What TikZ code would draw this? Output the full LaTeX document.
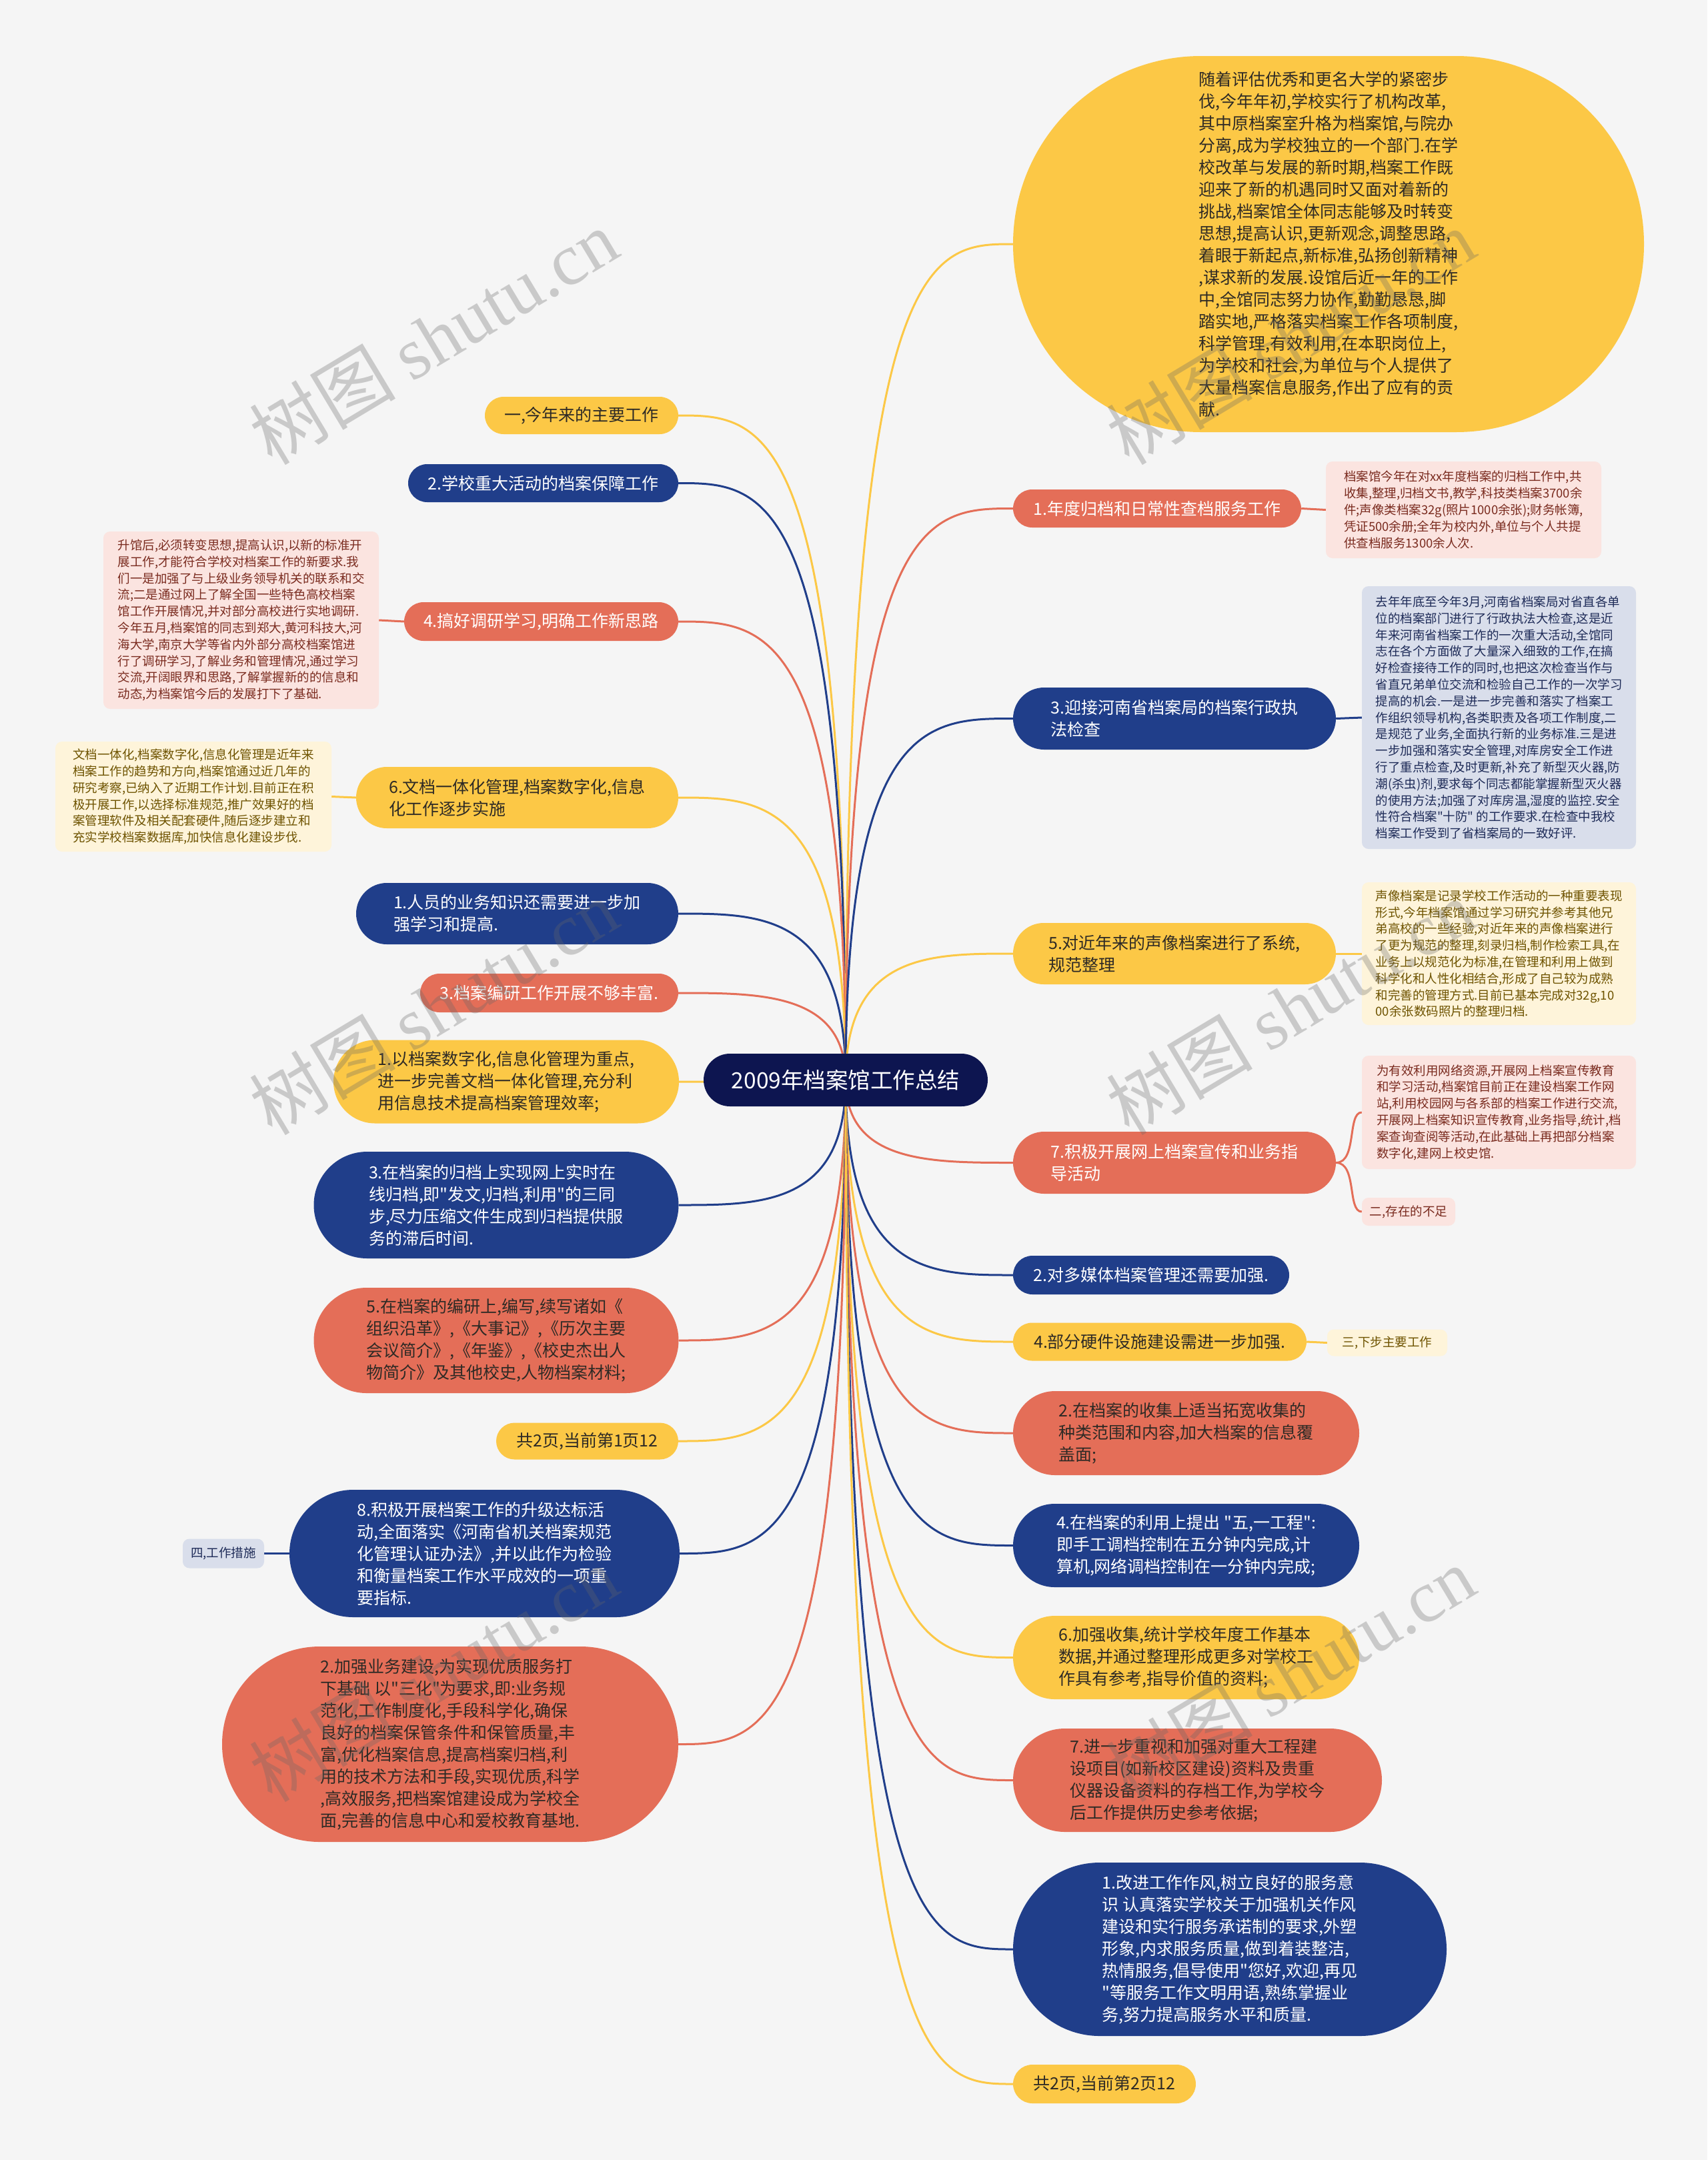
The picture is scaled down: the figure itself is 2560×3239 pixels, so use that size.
\documentclass[tikz,border=0pt]{standalone}
\usepackage{fontspec}
\newfontfamily\cjk{Noto Sans CJK SC}
\newfontfamily\wmserif{Liberation Serif}
\usetikzlibrary{calc,backgrounds}
\definecolor{bgc}{HTML}{F5F5F5}
\definecolor{yel}{HTML}{FCC846}
\definecolor{nav}{HTML}{203E8A}
\definecolor{crl}{HTML}{E46E58}
\definecolor{ctrc}{HTML}{0D1550}
\definecolor{pinkbg}{HTML}{FBE4E0}
\definecolor{pinktx}{HTML}{7A2B1F}
\definecolor{creambg}{HTML}{FEF4DA}
\definecolor{creamtx}{HTML}{6E5300}
\definecolor{bluebg}{HTML}{D9DEEB}
\definecolor{bluetx}{HTML}{1E2B58}
\definecolor{darktx}{HTML}{2E2A25}
\tikzset{
  base/.style={rectangle, inner sep=0pt, align=left},
  mtext/.style={font=\cjk\fontsize{25}{33}\selectfont},
  dtext/.style={font=\cjk\fontsize{18.5}{24.8}\selectfont},
  yl/.style={base, mtext, fill=yel, text=darktx},
  nv/.style={base, mtext, fill=nav, text=white},
  rw/.style={base, mtext, fill=crl, text=white},
  rd/.style={base, mtext, fill=crl, text=darktx},
  pk/.style={base, dtext, fill=pinkbg, text=pinktx, rounded corners=10pt},
  cr/.style={base, dtext, fill=creambg, text=creamtx, rounded corners=10pt},
  bl/.style={base, dtext, fill=bluebg, text=bluetx, rounded corners=10pt},
  sz/.style n args={2}{minimum width=#1pt, minimum height=#2pt},
  pill/.style n args={2}{minimum width=#1pt, minimum height=#2pt, rounded corners=#2/2},
  link/.style={line width=3pt},
  wm/.style={rotate=31, text=black!60, opacity=0.3, inner sep=0pt},
}
\newcommand\cto[2]{\draw[link,#2] (c.center) .. controls (c.center |- #1) and ($(c.center |- #1)!0.5!(#1)$) .. (#1);}
\newcommand\wmark[2]{\node[wm] at (#1,#2) {\cjk\fontsize{110}{110}\selectfont 树图 \wmserif shutu.cn};}
\begin{document}
\begin{tikzpicture}[x=1pt,y=-1pt]
\useasboundingbox (0,0) rectangle (2560,3239);
% centre
\node[base, fill=ctrc, text=white, font=\cjk\fontsize{33.5}{38}\selectfont, minimum width=426pt, minimum height=79pt, rounded corners=39.5pt] (c) at (1268,1619.5) {2009年档案馆工作总结};
% left side
\node[yl, pill={290}{56}] (L1) at (872,623) {一,今年来的主要工作};
\node[nv, pill={405}{57}] (L2) at (814.5,724.5) {2.学校重大活动的档案保障工作};
\node[rw, pill={411}{58}] (L3) at (811.5,932) {4.搞好调研学习,明确工作新思路};
\node[yl, pill={483}{92}] (L4) at (775.5,1196) {6.文档一体化管理,档案数字化,信息\\化工作逐步实施};
\node[nv, pill={483}{92}] (L5) at (775.5,1370) {1.人员的业务知识还需要进一步加\\强学习和提高.};
\node[rw, pill={387}{58}] (L6) at (823.5,1489) {3.档案编研工作开展不够丰富.};
\node[yl, pill={518}{125}] (L7) at (759,1622) {1.以档案数字化,信息化管理为重点,\\进一步完善文档一体化管理,充分利\\用信息技术提高档案管理效率;};
\node[nv, pill={547}{160}] (L8) at (744,1807) {3.在档案的归档上实现网上实时在\\线归档,即"发文,归档,利用"的三同\\步,尽力压缩文件生成到归档提供服\\务的滞后时间.};
\node[rd, pill={547}{158}] (L9) at (744,2010) {5.在档案的编研上,编写,续写诸如《\\组织沿革》,《大事记》,《历次主要\\会议简介》,《年鉴》,《校史杰出人\\物简介》及其他校史,人物档案材料;};
\node[yl, pill={273}{55}] (L10) at (880.5,2161) {共2页,当前第1页12};
\node[nv, pill={585}{191}] (L11) at (726.5,2329.5) {8.积极开展档案工作的升级达标活\\动,全面落实《河南省机关档案规范\\化管理认证办法》,并以此作为检验\\和衡量档案工作水平成效的一项重\\要指标.};
\node[rd, pill={684}{293}] (L12) at (675,2615.5) {2.加强业务建设,为实现优质服务打\\下基础 以"三化"为要求,即:业务规\\范化,工作制度化,手段科学化,确保\\良好的档案保管条件和保管质量,丰\\富,优化档案信息,提高档案归档,利\\用的技术方法和手段,实现优质,科学\\,高效服务,把档案馆建设成为学校全\\面,完善的信息中心和爱校教育基地.};
% left details
\node[pk, sz={413}{266}] (D3) at (361.5,930) {升馆后,必须转变思想,提高认识,以新的标准开\\展工作,才能符合学校对档案工作的新要求.我\\们一是加强了与上级业务领导机关的联系和交\\流;二是通过网上了解全国一些特色高校档案\\馆工作开展情况,并对部分高校进行实地调研.\\今年五月,档案馆的同志到郑大,黄河科技大,河\\海大学,南京大学等省内外部分高校档案馆进\\行了调研学习,了解业务和管理情况,通过学习\\交流,开阔眼界和思路,了解掌握新的的信息和\\动态,为档案馆今后的发展打下了基础.};
\node[cr, sz={414}{165}] (D4) at (290,1194.5) {文档一体化,档案数字化,信息化管理是近年来\\档案工作的趋势和方向,档案馆通过近几年的\\研究考察,已纳入了近期工作计划.目前正在积\\极开展工作,以选择标准规范,推广效果好的档\\案管理软件及相关配套硬件,随后逐步建立和\\充实学校档案数据库,加快信息化建设步伐.};
\node[bl, sz={122}{44}] (D11) at (335,2329.5) {四,工作措施};
% right side
\node[yl, pill={946}{564}] (R0) at (1992,366) {随着评估优秀和更名大学的紧密步\\伐,今年年初,学校实行了机构改革,\\其中原档案室升格为档案馆,与院办\\分离,成为学校独立的一个部门.在学\\校改革与发展的新时期,档案工作既\\迎来了新的机遇同时又面对着新的\\挑战,档案馆全体同志能够及时转变\\思想,提高认识,更新观念,调整思路,\\着眼于新起点,新标准,弘扬创新精神\\,谋求新的发展.设馆后近一年的工作\\中,全馆同志努力协作,勤勤恳恳,脚\\踏实地,严格落实档案工作各项制度,\\科学管理,有效利用,在本职岗位上,\\为学校和社会,为单位与个人提供了\\大量档案信息服务,作出了应有的贡\\献.};
\node[rw, pill={432}{57}] (R1) at (1735,762.5) {1.年度归档和日常性查档服务工作};
\node[nv, pill={484}{93}] (R2) at (1761,1077.5) {3.迎接河南省档案局的档案行政执\\法检查};
\node[yl, pill={484}{92}] (R3) at (1761,1430) {5.对近年来的声像档案进行了系统,\\规范整理};
\node[rw, pill={484}{93}] (R4) at (1761,1743.5) {7.积极开展网上档案宣传和业务指\\导活动};
\node[nv, pill={414}{58}] (R5) at (1726,1912) {2.对多媒体档案管理还需要加强.};
\node[yl, pill={440}{57}] (R6) at (1739,2012) {4.部分硬件设施建设需进一步加强.};
\node[rd, pill={519}{126}] (R7) at (1778.5,2149) {2.在档案的收集上适当拓宽收集的\\种类范围和内容,加大档案的信息覆\\盖面;};
\node[nv, pill={519}{125}] (R8) at (1778.5,2317.5) {4.在档案的利用上提出 "五,一工程":\\即手工调档控制在五分钟内完成,计\\算机,网络调档控制在一分钟内完成;};
\node[yl, pill={519}{125}] (R9) at (1778.5,2485.5) {6.加强收集,统计学校年度工作基本\\数据,并通过整理形成更多对学校工\\作具有参考,指导价值的资料;};
\node[rd, pill={553}{155}] (R10) at (1795.5,2669.5) {7.进一步重视和加强对重大工程建\\设项目(如新校区建设)资料及贵重\\仪器设备资料的存档工作,为学校今\\后工作提供历史参考依据;};
\node[nv, pill={650}{260}] (R11) at (1844,2923) {1.改进工作作风,树立良好的服务意\\识 认真落实学校关于加强机关作风\\建设和实行服务承诺制的要求,外塑\\形象,内求服务质量,做到着装整洁,\\热情服务,倡导使用"您好,欢迎,再见\\"等服务工作文明用语,熟练掌握业\\务,努力提高服务水平和质量.};
\node[yl, pill={274}{58}] (R12) at (1656,3125) {共2页,当前第2页12};
% right details
\node[pk, sz={413}{145}] (D1) at (2194.5,764.5) {档案馆今年在对xx年度档案的归档工作中,共\\收集,整理,归档文书,教学,科技类档案3700余\\件;声像类档案32g(照片1000余张);财务帐簿,\\凭证500余册;全年为校内外,单位与个人共提\\供查档服务1300余人次.};
\node[bl, sz={411}{394}] (D2) at (2247.5,1076) {去年年底至今年3月,河南省档案局对省直各单\\位的档案部门进行了行政执法大检查,这是近\\年来河南省档案工作的一次重大活动,全馆同\\志在各个方面做了大量深入细致的工作,在搞\\好检查接待工作的同时,也把这次检查当作与\\省直兄弟单位交流和检验自己工作的一次学习\\提高的机会.一是进一步完善和落实了档案工\\作组织领导机构,各类职责及各项工作制度,二\\是规范了业务,全面执行新的业务标准.三是进\\一步加强和落实安全管理,对库房安全工作进\\行了重点检查,及时更新,补充了新型灭火器,防\\潮(杀虫)剂,要求每个同志都能掌握新型灭火器\\的使用方法;加强了对库房温,湿度的监控.安全\\性符合档案"十防" 的工作要求.在检查中我校\\档案工作受到了省档案局的一致好评.};
\node[cr, sz={411}{214}] (D3r) at (2247.5,1430) {声像档案是记录学校工作活动的一种重要表现\\形式,今年档案馆通过学习研究并参考其他兄\\弟高校的一些经验,对近年来的声像档案进行\\了更为规范的整理,刻录归档,制作检索工具,在\\业务上以规范化为标准,在管理和利用上做到\\科学化和人性化相结合,形成了自己较为成熟\\和完善的管理方式.目前已基本完成对32g,10\\00余张数码照片的整理归档.};
\node[pk, sz={411}{170}] (D4r) at (2247.5,1668) {为有效利用网络资源,开展网上档案宣传教育\\和学习活动,档案馆目前正在建设档案工作网\\站,利用校园网与各系部的档案工作进行交流,\\开展网上档案知识宣传教育,业务指导,统计,档\\案查询查阅等活动,在此基础上再把部分档案\\数字化,建网上校史馆.};
\node[pk, sz={140}{42}] (D4s) at (2112,1817) {二,存在的不足};
\node[cr, sz={180}{40}] (D6) at (2080,2013.5) {三,下步主要工作};
% background and connectors
\begin{scope}[on background layer]
\fill[bgc] (0,0) rectangle (2560,3239);
\cto{L1.east}{yel}
\cto{L2.east}{nav}
\cto{L3.east}{crl}
\cto{L4.east}{yel}
\cto{L5.east}{nav}
\cto{L6.east}{crl}
\cto{L7.east}{yel}
\cto{L8.east}{nav}
\cto{L9.east}{crl}
\cto{L10.east}{yel}
\cto{L11.east}{nav}
\cto{L12.east}{crl}
\cto{R0.west}{yel}
\cto{R1.west}{crl}
\cto{R2.west}{nav}
\cto{R3.west}{yel}
\cto{R4.west}{crl}
\cto{R5.west}{nav}
\cto{R6.west}{yel}
\cto{R7.west}{crl}
\cto{R8.west}{nav}
\cto{R9.west}{yel}
\cto{R10.west}{crl}
\cto{R11.west}{nav}
\cto{R12.west}{yel}
\draw[link,crl] (D3.east) -- (L3.west);
\draw[link,yel] (D4.east) -- (L4.west);
\draw[link,nav] (D11.east) -- (L11.west);
\draw[link,crl] (R1.east) -- (D1.west);
\draw[link,nav] (R2.east) -- (D2.west);
\draw[link,yel] (R3.east) -- (D3r.west);
\draw[link,crl] (R4.east) .. controls ($(R4.east)+(32,0)$) and ($(D4r.west)+(-22,0)$) .. (D4r.west);
\draw[link,crl] (R4.east) .. controls ($(R4.east)+(32,0)$) and ($(D4s.west)+(-22,0)$) .. (D4s.west);
\draw[link,yel] (R6.east) -- (D6.west);
\end{scope}
% watermarks
\wmark{650}{505}
\wmark{1935}{505}
\wmark{650}{1510}
\wmark{1935}{1510}
\wmark{650}{2510}
\wmark{1935}{2510}
\end{tikzpicture}
\end{document}
